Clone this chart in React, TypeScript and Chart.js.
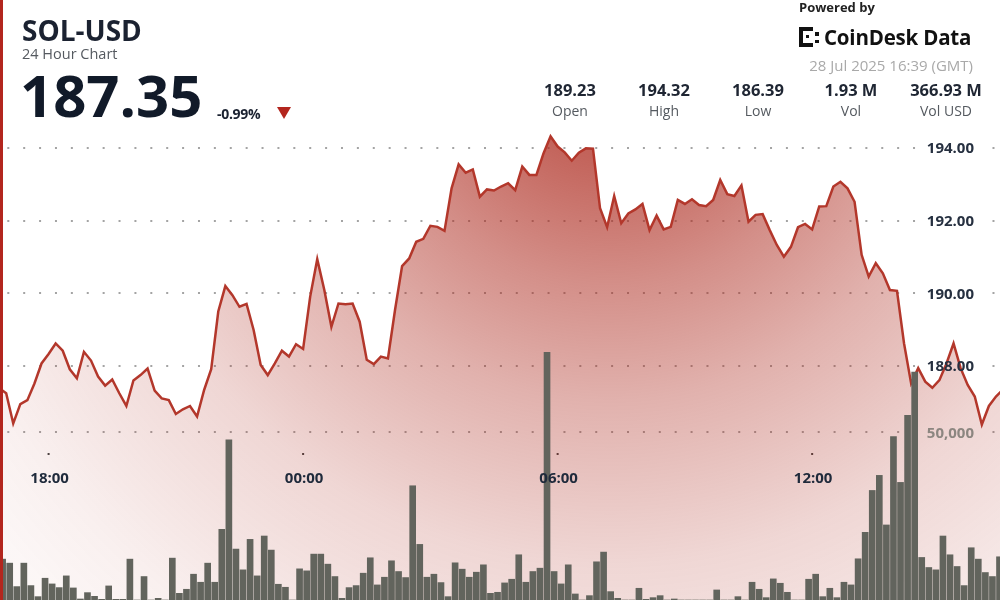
import React, { useEffect, useRef } from "react";
import { Chart, registerables } from "chart.js";

Chart.register(...registerables);

// ---- data (10-minute steps, first point 16:50) ----
const prices = [
  187.39, 187.25, 186.42, 186.95, 187.06, 187.52, 188.07, 188.33, 188.62, 188.42,
  187.91, 187.66, 188.39, 188.15, 187.71, 187.46, 187.63, 187.25, 186.9, 187.6,
  187.75, 187.93, 187.32, 187.11, 187.06, 186.68, 186.81, 186.9, 186.61, 187.34,
  187.91, 189.5, 190.2, 189.95, 189.63, 189.71, 188.99, 188.03, 187.75, 188.07,
  188.42, 188.26, 188.6, 188.47, 189.91, 190.94, 190.09, 189.08, 189.72, 189.7,
  189.72, 189.22, 188.17, 188.05, 188.26, 188.21, 189.54, 190.75, 190.96, 191.42,
  191.5, 191.86, 191.83, 191.72, 192.89, 193.55, 193.32, 193.41, 192.66, 192.86,
  192.83, 192.94, 193.03, 192.84, 193.49, 193.26, 193.26, 193.85, 194.32, 194.04,
  193.88, 193.65, 193.87, 193.99, 193.98, 192.34, 191.82, 192.68, 191.93, 192.2,
  192.31, 192.46, 191.74, 192.14, 191.76, 191.83, 192.57, 192.46, 192.59, 192.43,
  192.4, 192.57, 193.12, 192.73, 192.68, 192.97, 191.97, 192.16, 192.18, 191.74,
  191.33, 191.01, 191.28, 191.82, 191.91, 191.76, 192.39, 192.4, 192.94, 193.07,
  192.89, 192.52, 191.06, 190.46, 190.83, 190.55, 190.09, 190.07, 188.62, 187.52,
  187.94, 187.57, 187.4, 187.61, 188.07, 188.62, 187.94, 187.48, 187.16, 186.39,
  186.9, 187.16, 187.35,
];

const volumes = [
  12200, 11000, 4000, 11000, 4300, 1000, 6500, 4800, 3700, 7200,
  3600, 300, 2200, 1100, 200, 4200, 200, 200, 12200, 0,
  7000, 0, 500, 0, 12500, 2000, 3200, 7700, 5300, 11000,
  5300, 21100, 47800, 15200, 9000, 18100, 7200, 19100, 14900, 4700,
  3800, 0, 9300, 8700, 13700, 13700, 10700, 7000, 500, 3700,
  4300, 8000, 12600, 4500, 6800, 11700, 8500, 6700, 34100, 16600,
  6800, 7700, 5200, 1000, 11100, 9200, 6800, 8300, 10500, 2000,
  2300, 5100, 6200, 13500, 5300, 8500, 9500, 73900, 8500, 4800,
  10500, 1800, 0, 1300, 11400, 14300, 2500, 500, 0, 0,
  3500, 200, 700, 1300, 0, 300, 0, 0, 0, 0,
  0, 3000, 0, 0, 1000, 0, 5300, 3200, 700, 6300,
  5000, 2300, 0, 0, 6200, 7700, 1000, 3500, 700, 5300,
  4500, 12300, 20200, 32700, 37200, 22400, 48800, 35100, 55100, 68000,
  12700, 9700, 9000, 19100, 13500, 10000, 4300, 15600, 12200, 8200,
  7000, 12900,
];

const priceTicks = [188, 190, 192, 194];
const volumeTicks = [50000];
const timeTickIndex = [7, 43, 79, 115];
const timeTickLabels = ["18:00", "00:00", "06:00", "12:00"];

const statValues = ["189.23", "194.32", "186.39", "1.93 M", "366.93 M"];
const statLabels = ["Open", "High", "Low", "Vol", "Vol USD"];
const statCenters = [570, 664, 758, 851, 946];

// ---- view window ----
const X_MIN = 0.127;
const X_MAX = 141.57;
const Y_MAX = 198.073;
const Y_MIN = 181.56;
const VOL_MAX = 179100;

const FONT = '"Open Sans", "Noto Sans", sans-serif';

const overlayPlugin = {
  id: "overlay",
  beforeDatasetsDraw(chart: any) {
    const { ctx } = chart;
    const ys = chart.scales.y;
    const vs = chart.scales.vol;
    const xs = chart.scales.x;
    ctx.save();
    ctx.fillStyle = "rgba(125,125,125,0.7)";
    const rows = [
      ...priceTicks.map((v) => ys.getPixelForValue(v)),
      ...volumeTicks.map((v) => vs.getPixelForValue(v)),
    ];
    rows.forEach((py: number) => {
      for (let k = 0; k < 64; k++) {
        const px = 8.3 + k * 15.89;
        if (px > 922 && px < 985) continue;
        if (px > 1000) break;
        ctx.fillRect(px - 1, Math.round(py) - 1, 2, 2);
      }
    });
    ctx.fillStyle = "#444";
    timeTickIndex.forEach((t) => {
      const px = xs.getPixelForValue(t);
      ctx.fillRect(px - 1, 453, 2, 2);
    });
    ctx.restore();
  },
  afterDatasetsDraw(chart: any) {
    const { ctx } = chart;
    const ys = chart.scales.y;
    const vs = chart.scales.vol;
    const xs = chart.scales.x;
    ctx.save();
    ctx.font = `bold 15px ${FONT}`;
    ctx.textAlign = "right";
    ctx.textBaseline = "middle";
    ctx.fillStyle = "#263040";
    priceTicks.forEach((v) => ctx.fillText(v.toFixed(2), 974, ys.getPixelForValue(v) + 1));
    ctx.fillStyle = "#8c8680";
    volumeTicks.forEach((v) =>
      ctx.fillText(v.toLocaleString("en-US"), 974, vs.getPixelForValue(v) + 1)
    );
    ctx.textAlign = "center";
    ctx.fillStyle = "#1f2a3b";
    timeTickIndex.forEach((t, k) =>
      ctx.fillText(timeTickLabels[k], xs.getPixelForValue(t) + 1, 479)
    );
    ctx.restore();
  },
};

function fillGradient(context: any) {
  const chart = context.chart;
  const { ctx, chartArea } = chart;
  if (!chartArea) return "rgba(172,40,28,0.3)";
  const g = ctx.createRadialGradient(610, 50, 0, 610, 50, 780);
  g.addColorStop(0, "rgba(172,40,28,0.82)");
  g.addColorStop(0.14, "rgba(172,40,28,0.72)");
  g.addColorStop(0.3, "rgba(172,40,28,0.52)");
  g.addColorStop(0.45, "rgba(172,40,28,0.36)");
  g.addColorStop(0.66, "rgba(172,40,28,0.19)");
  g.addColorStop(0.8, "rgba(172,40,28,0.12)");
  g.addColorStop(0.9, "rgba(172,40,28,0.07)");
  g.addColorStop(1, "rgba(172,40,28,0.04)");
  return g;
}

function PriceChart() {
  const ref = useRef<HTMLCanvasElement | null>(null);
  useEffect(() => {
    if (!ref.current) return;
    const pricePoints = prices.map((p, i) => ({ x: i, y: p }));
    const volumePoints = volumes.map((v, j) => ({ x: j + 0.5, y: v }));
    const chart = new Chart(ref.current, {
      type: "line",
      data: {
        datasets: [
          {
            type: "bar",
            data: volumePoints as any,
            yAxisID: "vol",
            xAxisID: "x",
            backgroundColor: "#62645d",
            borderWidth: 0,
            barThickness: 6,
            order: 0,
          } as any,
          {
            type: "line",
            data: pricePoints as any,
            yAxisID: "y",
            xAxisID: "x",
            borderColor: "#b3372b",
            borderWidth: 2.5,
            pointRadius: 0,
            tension: 0,
            fill: "start",
            backgroundColor: fillGradient,
            order: 1,
          } as any,
        ],
      },
      options: {
        animation: false,
        responsive: false,
        maintainAspectRatio: false,
        events: [],
        layout: { padding: 0 },
        plugins: { legend: { display: false }, tooltip: { enabled: false } },
        scales: {
          x: {
            type: "linear",
            min: X_MIN,
            max: X_MAX,
            offset: false,
            bounds: "ticks",
            grid: { offset: false },
            display: false,
          },
          y: { type: "linear", min: Y_MIN, max: Y_MAX, display: false },
          vol: { type: "linear", min: 0, max: VOL_MAX, display: false },
        },
      } as any,
      plugins: [overlayPlugin as any],
    });
    return () => chart.destroy();
  }, []);
  return (
    <canvas
      ref={ref}
      width={1000}
      height={600}
      style={{ position: "absolute", left: 0, top: 0, width: 1000, height: 600 }}
    />
  );
}

const abs = (o: React.CSSProperties): React.CSSProperties => ({
  position: "absolute",
  whiteSpace: "nowrap",
  fontFamily: FONT,
  lineHeight: 1,
  margin: 0,
  ...o,
});

export default function App() {
  return (
    <div
      style={{
        position: "absolute",
        left: 0,
        top: 0,
        width: 1000,
        height: 600,
        background: "#ffffff",
        overflow: "hidden",
      }}
    >
      <PriceChart />
      {/* left accent */}
      <div style={{ position: "absolute", left: 0, top: 0, width: 3, height: 600, background: "#b3261e" }} />

      {/* header left */}
      <div style={abs({ left: 22, top: 15.5, fontSize: 28, fontWeight: 700, color: "#1b2231" })}>SOL-USD</div>
      <div style={abs({ left: 22, top: 47, fontSize: 14.5, fontWeight: 400, color: "#555a60" })}>24 Hour Chart</div>
      <div style={abs({ left: 20, top: 65.5, fontSize: 58, fontWeight: 700, color: "#111a29" })}>187.35</div>
      <div style={abs({ left: 217, top: 106.5, fontSize: 14, fontWeight: 700, color: "#1b2231", letterSpacing: -0.3 })}>-0.99%</div>
      <div
        style={{
          position: "absolute",
          left: 277,
          top: 107,
          width: 0,
          height: 0,
          borderLeft: "7px solid transparent",
          borderRight: "7px solid transparent",
          borderTop: "12px solid #b3261e",
        }}
      />

      {/* header right */}
      <div style={abs({ left: 799, top: 0.5, fontSize: 13, fontWeight: 700, color: "#222" })}>Powered by</div>
      <div style={{ position: "absolute", left: 799, top: 27, width: 14, height: 3.5, background: "#111" }} />
      <div style={{ position: "absolute", left: 799, top: 43, width: 14, height: 3.5, background: "#111" }} />
      <div style={{ position: "absolute", left: 799, top: 27, width: 3.5, height: 19.5, background: "#111" }} />
      <div style={{ position: "absolute", left: 806, top: 35, width: 3, height: 3, background: "#111" }} />
      <div style={{ position: "absolute", left: 815, top: 32, width: 3.5, height: 3.5, background: "#111" }} />
      <div style={{ position: "absolute", left: 815, top: 39.5, width: 3.5, height: 3.5, background: "#111" }} />
      <div style={abs({ left: 824, top: 27, fontSize: 20.5, fontWeight: 700, color: "#111", letterSpacing: -0.2 })}>CoinDesk Data</div>
      <div style={abs({ right: 27, top: 57.5, fontSize: 15, fontWeight: 400, color: "#a9a9a9" })}>28 Jul 2025 16:39 (GMT)</div>

      {statValues.map((v, k) => (
        <React.Fragment key={v}>
          <div style={abs({ left: statCenters[k] - 60, width: 120, textAlign: "center", top: 82, fontSize: 16.5, fontWeight: 700, color: "#1f2633" })}>{v}</div>
          <div style={abs({ left: statCenters[k] - 60, width: 120, textAlign: "center", top: 103.5, fontSize: 14, fontWeight: 400, color: "#555a60" })}>{statLabels[k]}</div>
        </React.Fragment>
      ))}
    </div>
  );
}
